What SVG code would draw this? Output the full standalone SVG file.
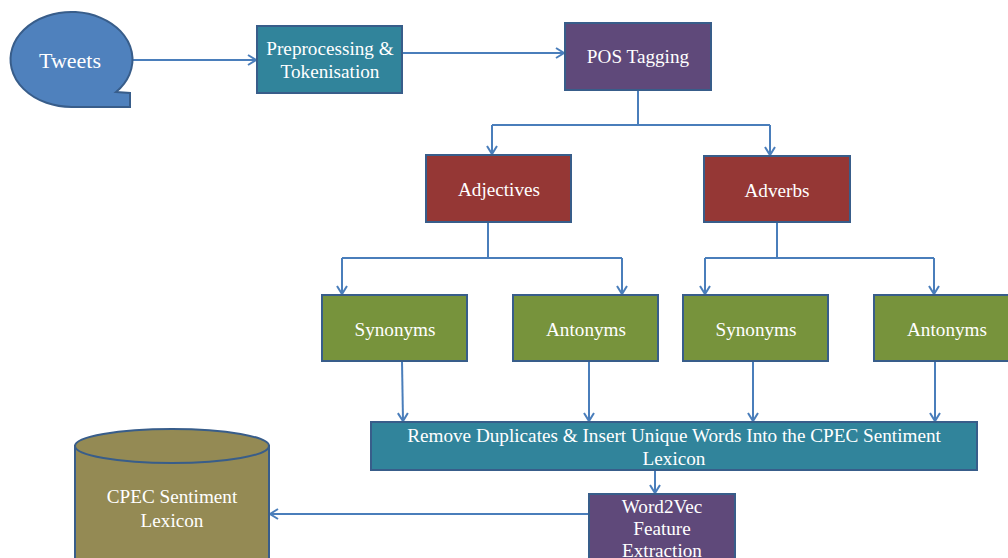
<svg xmlns="http://www.w3.org/2000/svg" width="1008" height="558" viewBox="0 0 1008 558">
<defs>
<marker id="ah" markerWidth="12" markerHeight="12" refX="10" refY="6" orient="auto" markerUnits="userSpaceOnUse">
<path d="M2,1 L10,6 L2,11" fill="none" stroke="#4A7EBB" stroke-width="2"/>
</marker>
</defs>
<style>
.n{stroke:#385D8A;stroke-width:2}
.t{fill:#FFFFFF;font-family:"Liberation Serif","Times New Roman",serif;font-size:19.2px;text-anchor:middle}
.c{fill:none;stroke:#4A7EBB;stroke-width:2}
.ca{fill:none;stroke:#4A7EBB;stroke-width:2;marker-end:url(#ah)}
</style>
<rect width="1008" height="558" fill="#FFFFFF"/>
<g id="connectors">
<path class="ca" d="M130,60 L256,60"/>
<path class="ca" d="M402,53 L564,53"/>
<path class="c" d="M638,90 L638,125 M492,125 L770,125"/>
<path class="ca" d="M492,125 L492,154"/>
<path class="ca" d="M770,125 L770,155"/>
<path class="c" d="M488,222 L488,258 M342,258 L622,258"/>
<path class="ca" d="M342,258 L342,294"/>
<path class="ca" d="M622,258 L622,294"/>
<path class="c" d="M777,222 L777,258 M705,258 L934,258"/>
<path class="ca" d="M705,258 L705,294"/>
<path class="ca" d="M934,258 L934,294"/>
<path class="ca" d="M402,361 L403,421"/>
<path class="ca" d="M589,361 L589,421"/>
<path class="ca" d="M753,361 L753,421"/>
<path class="ca" d="M935,361 L935,421"/>
<path class="ca" d="M655,470 L655,493"/>
<path class="ca" d="M589,514 L270,514"/>
</g>
<g id="tweets">
<path class="n" fill="#4F81BD" d="M116,92 L130,93 L130,107 L72,107 A61,47.5 0 1 1 116,92 Z"/>
<text class="t" x="70" y="68" style="font-size:22px">Tweets</text>
</g>
<g id="preprocessing">
<rect class="n" x="257" y="26" width="145" height="67" fill="#31849B"/>
<text class="t" x="330" y="55">Preprocessing &amp;</text>
<text class="t" x="330" y="78">Tokenisation</text>
</g>
<g id="pos">
<rect class="n" x="565" y="23" width="146" height="67" fill="#5F497A"/>
<text class="t" x="638" y="63">POS Tagging</text>
</g>
<g id="adjectives">
<rect class="n" x="426" y="155" width="145" height="67" fill="#953735"/>
<text class="t" x="499" y="196">Adjectives</text>
</g>
<g id="adverbs">
<rect class="n" x="704" y="156" width="146" height="66" fill="#953735"/>
<text class="t" x="777" y="197">Adverbs</text>
</g>
<g id="syn1">
<rect class="n" x="322" y="295" width="145" height="66" fill="#77933C"/>
<text class="t" x="395" y="336">Synonyms</text>
</g>
<g id="ant1">
<rect class="n" x="513" y="295" width="145" height="66" fill="#77933C"/>
<text class="t" x="586" y="336">Antonyms</text>
</g>
<g id="syn2">
<rect class="n" x="683" y="295" width="145" height="66" fill="#77933C"/>
<text class="t" x="756" y="336">Synonyms</text>
</g>
<g id="ant2">
<rect class="n" x="874" y="295" width="145" height="66" fill="#77933C"/>
<text class="t" x="947" y="336">Antonyms</text>
</g>
<g id="remove">
<rect class="n" x="371" y="422" width="606" height="48" fill="#31849B"/>
<text class="t" x="674" y="442">Remove Duplicates &amp; Insert Unique Words Into the CPEC Sentiment</text>
<text class="t" x="674" y="465">Lexicon</text>
</g>
<g id="word2vec">
<rect class="n" x="589" y="494" width="146" height="80" fill="#5F497A"/>
<text class="t" x="662" y="513">Word2Vec</text>
<text class="t" x="662" y="535">Feature</text>
<text class="t" x="662" y="557">Extraction</text>
</g>
<g id="lexicon">
<path class="n" fill="#948A54" d="M75,446 L75,570 L269,570 L269,446 Z"/>
<ellipse class="n" cx="172" cy="446" rx="97" ry="17" fill="#948A54"/>
<text class="t" x="172" y="503">CPEC Sentiment</text>
<text class="t" x="172" y="527">Lexicon</text>
</g>
</svg>
